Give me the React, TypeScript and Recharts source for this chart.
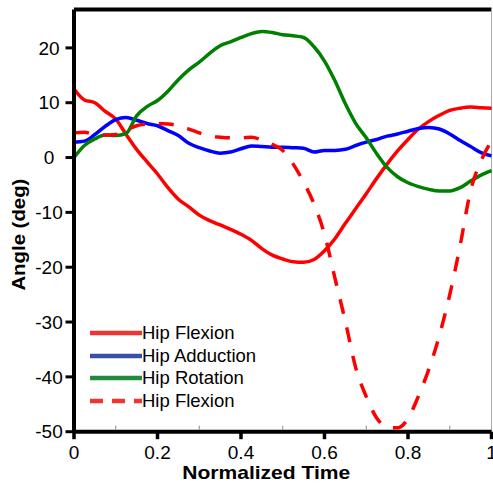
import React from 'react';
import { LineChart, Line, XAxis, YAxis, ReferenceLine, Legend } from 'recharts';

// normalized gait cycle, every 2.5%
const timePoints = [
  0, 0.025, 0.05, 0.075, 0.1, 0.125, 0.15, 0.175, 0.2, 0.225, 0.25, 0.275, 0.3, 0.325,
  0.35, 0.375, 0.4, 0.425, 0.45, 0.475, 0.5, 0.525, 0.55, 0.575, 0.6, 0.625, 0.65,
  0.675, 0.7, 0.725, 0.75, 0.775, 0.8, 0.825, 0.85, 0.875, 0.9, 0.925, 0.95, 0.975, 1,
];

const hipFlexion = [
  12.5, 10.5, 10.0, 8.4, 7.0, 4.2, 1.5, -0.8, -3.0, -5.5, -7.6, -9.0, -10.5, -11.5,
  -12.3, -13.1, -14.0, -15.1, -16.6, -17.8, -18.5, -19.0, -19.1, -18.6, -17.0, -14.8,
  -12.0, -9.3, -6.6, -3.8, -1.2, 1.2, 3.3, 5.2, 6.6, 7.7, 8.6, 9.0, 9.2, 9.1, 9.0,
];

const hipAdduction = [
  2.8, 3.0, 4.2, 5.7, 6.9, 7.3, 6.8, 6.2, 5.8, 4.9, 4.0, 2.6, 1.8, 1.2, 0.8, 1.0, 1.6,
  2.1, 2.0, 1.9, 1.9, 1.8, 1.7, 1.0, 1.3, 1.3, 1.5, 2.2, 2.8, 3.3, 3.9, 4.3, 4.8, 5.3,
  5.5, 5.2, 4.3, 3.1, 2.0, 0.9, 0.3,
];

const hipRotation = [
  0, 2.2, 3.4, 4.1, 4.0, 4.4, 7.6, 9.3, 10.4, 12.1, 14.2, 16.0, 17.4, 19.0, 20.4, 21.1,
  21.9, 22.6, 23.0, 22.8, 22.4, 22.2, 21.9, 20.2, 17.6, 14.0, 9.8, 6.2, 3.6, 0.7, -1.8,
  -3.5, -4.6, -5.3, -5.8, -6.1, -6.1, -5.5, -4.3, -3.2, -2.4,
];

const hipFlexionRef = [
  4.5, 4.6, 4.2, 4.1, 4.2, 5.0, 5.8, 6.1, 6.2, 6.1, 5.8, 5.2, 4.5, 3.9, 3.7, 3.6, 3.6,
  3.7, 3.2, 2.4, 1.3, -1.2, -4.5, -8.5, -14.0, -22.0, -29.9, -38.4, -43.6, -47.5, -49.2,
  -49.3, -47.6, -43.5, -38.6, -32.5, -25.0, -16.0, -6.0, -0.6, 3.0,
];

const xTicks = [0, 0.1, 0.2, 0.3, 0.4, 0.5, 0.6, 0.7, 0.8, 0.9, 1];
const yTicks = [-50, -40, -30, -20, -10, 0, 10, 20];
const legendLabels = ['Hip Flexion', 'Hip Adduction', 'Hip Rotation', 'Hip Flexion'];

const chartData = timePoints.map((t, i) => ({
  t,
  flex: hipFlexion[i],
  add: hipAdduction[i],
  rot: hipRotation[i],
  flexRef: hipFlexionRef[i],
}));

const FONT = '"Liberation Sans", Arial, sans-serif';

const legendItems = [
  { label: legendLabels[0], color: '#ef3434', dash: undefined },
  { label: legendLabels[1], color: '#3a4fa6', dash: undefined },
  { label: legendLabels[2], color: '#228a3c', dash: undefined },
  { label: legendLabels[3], color: '#ef3434', dash: '13 9' },
];

const XTick = ({ x, y, payload }: any) => {
  const major = Math.round(payload.value * 10) % 2 === 0;
  if (!major) {
    return <line x1={x} y1={y - 2} x2={x} y2={y - 6} stroke="#888" strokeWidth={1} />;
  }
  return (
    <g>
      <line x1={x} y1={y} x2={x} y2={y + 7.5} stroke="#000" strokeWidth={3.5} />
      <text x={x} y={y + 14} dy="0.71em" textAnchor="middle" fontFamily={FONT} fontSize={19} fill="#000">
        {payload.value}
      </text>
    </g>
  );
};

const YTick = ({ x, y, payload }: any) => (
  <g>
    <line x1={x - 8.5} y1={y} x2={x} y2={y} stroke="#000" strokeWidth={3} />
    <text x={x - 25} y={y} dy="0.355em" textAnchor="middle" fontFamily={FONT} fontSize={19} fill="#000">
      {payload.value}
    </text>
  </g>
);

const XTitle = ({ viewBox }: any) => (
  <text
    x={viewBox.x + viewBox.width / 2 - 16.5}
    y={viewBox.y + 47}
    textAnchor="middle"
    fontFamily={FONT}
    fontWeight="bold"
    fontSize={18.5}
    textLength={168}
    lengthAdjust="spacingAndGlyphs"
    fill="#000"
  >
    Normalized Time
  </text>
);

const YTitle = ({ viewBox }: any) => {
  const cy = viewBox.y + viewBox.height / 2 + 14;
  return (
    <text
      x={25}
      y={cy}
      transform={`rotate(-90, 25, ${cy})`}
      textAnchor="middle"
      fontFamily={FONT}
      fontWeight="bold"
      fontSize={19}
      textLength={112}
      lengthAdjust="spacingAndGlyphs"
      fill="#000"
    >
      Angle (deg)
    </text>
  );
};

const JointLegend = () => (
  <div style={{ fontFamily: FONT, fontSize: 18.5, color: '#000' }}>
    {legendItems.map((item, i) => (
      <div key={i} style={{ display: 'flex', alignItems: 'center', height: 22.6 }}>
        <svg width={52} height={8} style={{ display: 'block' }}>
          <line x1={0} y1={4} x2={52} y2={4} stroke={item.color} strokeWidth={4.5} strokeDasharray={item.dash} />
        </svg>
        <span style={{ lineHeight: '22.6px', whiteSpace: 'nowrap' }}>{item.label}</span>
      </div>
    ))}
  </div>
);

export default function App() {
  return (
    <div style={{ position: 'absolute', left: 0, top: 0, width: 493, height: 485, background: '#fff' }}>
      <LineChart width={493} height={485} data={chartData} margin={{ top: 9.5, right: 1.5, left: 0, bottom: 0 }}>
        <XAxis
          dataKey="t"
          type="number"
          domain={[0, 1]}
          ticks={xTicks}
          interval={0}
          height={53.3}
          tickSize={0}
          tickMargin={0}
          tickLine={false}
          axisLine={{ stroke: '#000', strokeWidth: 4 }}
          tick={(p: any) => <XTick {...p} />}
          label={<XTitle />}
        />
        <YAxis
          type="number"
          domain={[-50, 27]}
          ticks={yTicks}
          interval={0}
          width={74}
          tickSize={0}
          tickMargin={0}
          tickLine={false}
          allowDataOverflow
          axisLine={{ stroke: '#000', strokeWidth: 4 }}
          tick={(p: any) => <YTick {...p} />}
          label={<YTitle />}
        />
        <ReferenceLine y={27} stroke="#000" strokeWidth={4} />
        <ReferenceLine x={1} stroke="#b0b0b0" strokeWidth={1} />
        <Line type="monotone" dataKey="flex" name={legendLabels[0]} stroke="#ff0000" strokeWidth={3.5} dot={false} activeDot={false} isAnimationActive={false} />
        <Line type="monotone" dataKey="add" name={legendLabels[1]} stroke="#0000ff" strokeWidth={3.5} dot={false} activeDot={false} isAnimationActive={false} />
        <Line type="monotone" dataKey="rot" name={legendLabels[2]} stroke="#008000" strokeWidth={3.5} dot={false} activeDot={false} isAnimationActive={false} />
        <Line type="monotone" dataKey="flexRef" name={legendLabels[3]} stroke="#ff0000" strokeWidth={3.5} strokeDasharray="15 14" dot={false} activeDot={false} isAnimationActive={false} />
        <Legend
          layout="vertical"
          align="center"
          verticalAlign="middle"
          content={<JointLegend />}
          wrapperStyle={{ left: 90, top: 322, width: 200, height: 92 }}
        />
      </LineChart>
    </div>
  );
}
